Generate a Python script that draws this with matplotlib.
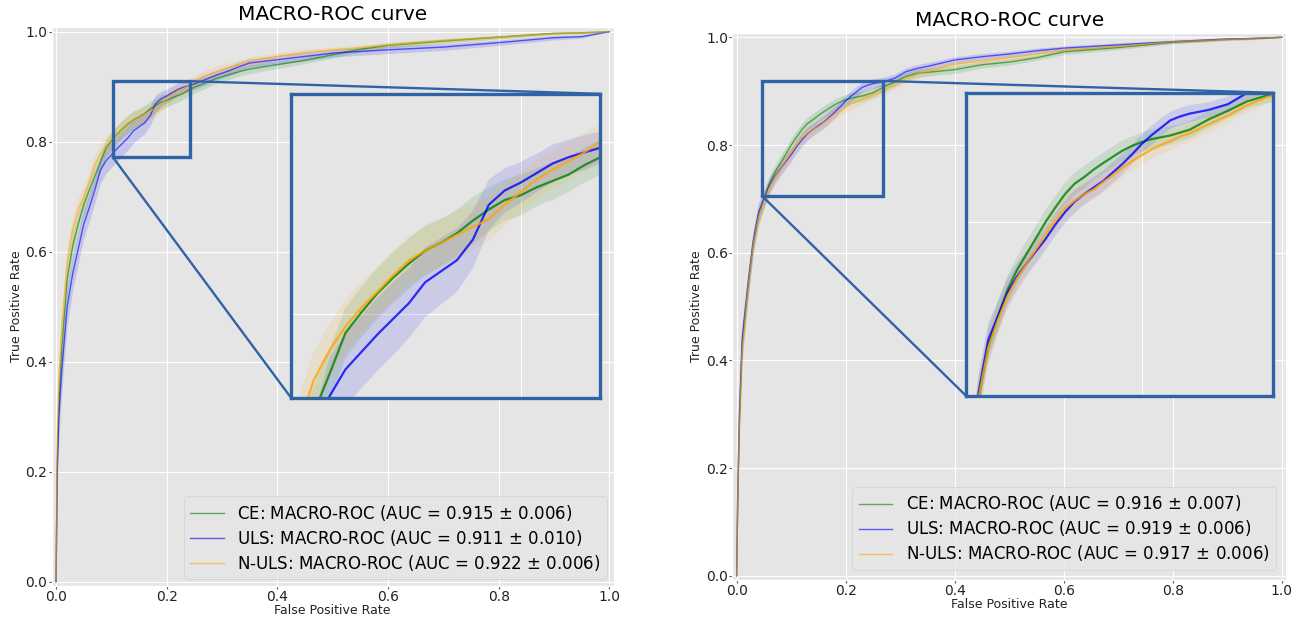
import numpy as np
import matplotlib
matplotlib.use('Agg')
import matplotlib.pyplot as plt
from matplotlib.patches import Rectangle, ConnectionPatch

# Shared false positive rate grid
mean_fpr = [0, 0.002, 0.005, 0.01, 0.02, 0.03, 0.04, 0.05, 0.06, 0.07, 0.08, 0.09,
            0.10, 0.11, 0.12, 0.13, 0.14, 0.15, 0.16, 0.17, 0.18, 0.19, 0.20, 0.21,
            0.22, 0.23, 0.24, 0.25, 0.27, 0.29, 0.31, 0.33, 0.35, 0.40, 0.45, 0.50,
            0.55, 0.60, 0.70, 0.80, 0.90, 0.95, 1.0]

# Left experiment: mean TPR and std per loss
ce_tpr_1 = [0, 0.22, 0.33, 0.42, 0.55, 0.61, 0.65, 0.685, 0.712, 0.737, 0.762, 0.788,
            0.801, 0.813, 0.823, 0.832, 0.840, 0.845, 0.851, 0.859, 0.866, 0.872, 0.875, 0.880,
            0.884, 0.888, 0.894, 0.899, 0.907, 0.915, 0.921, 0.927, 0.932, 0.940, 0.948, 0.958,
            0.968, 0.975, 0.983, 0.990, 0.997, 0.998, 1.0]
uls_tpr_1 = [0, 0.20, 0.30, 0.38, 0.50, 0.56, 0.605, 0.65, 0.68, 0.712, 0.748, 0.765,
             0.776, 0.787, 0.797, 0.807, 0.820, 0.827, 0.834, 0.847, 0.869, 0.878, 0.883, 0.889,
             0.895, 0.899, 0.902, 0.905, 0.913, 0.921, 0.928, 0.936, 0.943, 0.949, 0.955, 0.961,
             0.964, 0.967, 0.972, 0.980, 0.989, 0.991, 1.0]
nuls_tpr_1 = [0, 0.26, 0.37, 0.46, 0.58, 0.64, 0.675, 0.70, 0.727, 0.758, 0.777, 0.792,
              0.804, 0.814, 0.8245, 0.834, 0.840, 0.845, 0.850, 0.855, 0.860, 0.869, 0.877, 0.885,
              0.891, 0.8965, 0.902, 0.909, 0.919, 0.927, 0.934, 0.940, 0.946, 0.955, 0.962, 0.967,
              0.971, 0.976, 0.984, 0.990, 0.996, 0.998, 1.0]
ce_std_1 = [0, 0.03, 0.035, 0.035, 0.03, 0.025, 0.022, 0.02, 0.018, 0.017, 0.016, 0.016,
            0.016, 0.016, 0.016, 0.016, 0.016, 0.015, 0.015, 0.015, 0.014, 0.013, 0.013, 0.012,
            0.012, 0.011, 0.011, 0.011, 0.010, 0.009, 0.009, 0.008, 0.008, 0.007, 0.006, 0.006,
            0.005, 0.005, 0.004, 0.003, 0.002, 0.002, 0]
uls_std_1 = [0, 0.035, 0.04, 0.04, 0.035, 0.03, 0.028, 0.026, 0.025, 0.024, 0.024, 0.023,
             0.023, 0.023, 0.023, 0.022, 0.022, 0.021, 0.020, 0.018, 0.016, 0.014, 0.013, 0.012,
             0.012, 0.011, 0.011, 0.010, 0.010, 0.009, 0.009, 0.009, 0.008, 0.008, 0.008, 0.007,
             0.007, 0.007, 0.006, 0.005, 0.004, 0.003, 0]
nuls_std_1 = [0, 0.03, 0.035, 0.035, 0.03, 0.025, 0.022, 0.02, 0.019, 0.018, 0.017, 0.017,
              0.016, 0.016, 0.016, 0.015, 0.015, 0.015, 0.015, 0.014, 0.014, 0.013, 0.013, 0.013,
              0.012, 0.012, 0.012, 0.012, 0.011, 0.010, 0.009, 0.008, 0.008, 0.007, 0.006, 0.005,
              0.005, 0.004, 0.004, 0.003, 0.002, 0.002, 0]
labels_1 = ['CE: MACRO-ROC (AUC = 0.915 $\\pm$ 0.006)',
            'ULS: MACRO-ROC (AUC = 0.911 $\\pm$ 0.010)',
            'N-ULS: MACRO-ROC (AUC = 0.922 $\\pm$ 0.006)']

# Right experiment
ce_tpr_2 = [0, 0.15, 0.29, 0.43, 0.53, 0.615, 0.668, 0.700, 0.728, 0.749, 0.766, 0.783,
            0.800, 0.815, 0.829, 0.840, 0.847, 0.855, 0.862, 0.8685, 0.875, 0.880, 0.884, 0.887,
            0.889, 0.891, 0.894, 0.897, 0.908, 0.917, 0.927, 0.933, 0.935, 0.940, 0.949, 0.954,
            0.962, 0.973, 0.981, 0.991, 0.996, 0.998, 1.0]
uls_tpr_2 = [0, 0.16, 0.30, 0.44, 0.535, 0.62, 0.675, 0.70, 0.725, 0.742, 0.756, 0.769,
             0.782, 0.797, 0.810, 0.821, 0.829, 0.836, 0.843, 0.852, 0.861, 0.871, 0.882, 0.891,
             0.899, 0.907, 0.911, 0.914, 0.918, 0.924, 0.936, 0.942, 0.946, 0.958, 0.964, 0.969,
             0.975, 0.980, 0.986, 0.992, 0.997, 0.998, 1.0]
nuls_tpr_2 = [0, 0.15, 0.28, 0.42, 0.53, 0.615, 0.667, 0.696, 0.721, 0.740, 0.756, 0.771,
              0.787, 0.801, 0.814, 0.822, 0.829, 0.834, 0.842, 0.849, 0.857, 0.864, 0.870, 0.876,
              0.881, 0.885, 0.890, 0.893, 0.903, 0.912, 0.923, 0.931, 0.937, 0.950, 0.956, 0.962,
              0.969, 0.976, 0.983, 0.992, 0.996, 0.998, 1.0]
ce_std_2 = [0, 0.03, 0.03, 0.03, 0.025, 0.02, 0.018, 0.016, 0.015, 0.014, 0.014, 0.013,
            0.013, 0.012, 0.012, 0.012, 0.012, 0.011, 0.011, 0.011, 0.011, 0.010, 0.010, 0.010,
            0.010, 0.010, 0.009, 0.009, 0.009, 0.008, 0.008, 0.008, 0.007, 0.007, 0.006, 0.006,
            0.005, 0.005, 0.004, 0.003, 0.002, 0.002, 0]
uls_std_2 = [0, 0.03, 0.03, 0.03, 0.025, 0.02, 0.018, 0.016, 0.015, 0.014, 0.013, 0.013,
             0.012, 0.012, 0.012, 0.012, 0.011, 0.011, 0.011, 0.011, 0.011, 0.010, 0.010, 0.010,
             0.010, 0.009, 0.009, 0.009, 0.008, 0.008, 0.007, 0.007, 0.007, 0.006, 0.006, 0.005,
             0.005, 0.004, 0.004, 0.003, 0.002, 0.002, 0]
nuls_std_2 = [0, 0.03, 0.03, 0.03, 0.025, 0.02, 0.018, 0.016, 0.015, 0.014, 0.013, 0.013,
              0.012, 0.012, 0.012, 0.012, 0.011, 0.011, 0.011, 0.011, 0.010, 0.010, 0.010, 0.010,
              0.010, 0.010, 0.009, 0.009, 0.009, 0.008, 0.008, 0.007, 0.007, 0.006, 0.006, 0.005,
              0.005, 0.004, 0.004, 0.003, 0.002, 0.002, 0]
labels_2 = ['CE: MACRO-ROC (AUC = 0.916 $\\pm$ 0.007)',
            'ULS: MACRO-ROC (AUC = 0.919 $\\pm$ 0.006)',
            'N-ULS: MACRO-ROC (AUC = 0.917 $\\pm$ 0.006)']

colors = ['g', 'b', 'orange']
FRAME = '#2f63a6'


def draw_curves(ax, tprs, stds, labels, lw, alpha, band_alpha):
    fpr = np.array(mean_fpr)
    for tpr, std, color, label in zip(tprs, stds, colors, labels):
        tpr = np.array(tpr)
        std = np.array(std)
        ax.plot(fpr, tpr, color=color, lw=lw, alpha=alpha, label=label)
        upper = np.minimum(tpr + std, 1)
        lower = np.maximum(tpr - std, 0)
        ax.fill_between(fpr, lower, upper, color=color, alpha=band_alpha, lw=0)


def style_main(ax):
    ax.set_xticks(np.arange(0, 1.01, 0.2))
    ax.set_yticks(np.arange(0, 1.01, 0.2))
    ax.set_xlim([-0.008, 1.008])
    ax.set_ylim([-0.008, 1.008])
    ax.tick_params(labelsize=10, labelcolor='#222222', length=2, pad=1)
    ax.set_xlabel('False Positive Rate', fontsize=9, color='#222222', labelpad=0)
    ax.set_ylabel('True Positive Rate', fontsize=9, color='#222222', labelpad=2)
    ax.set_title('MACRO-ROC curve', fontsize=14.5, color='black', pad=5)


def add_zoom(fig, ax, tprs, stds, bounds, xlim, ylim, box):
    axins = ax.inset_axes(bounds, transform=ax.transData)
    draw_curves(axins, tprs, stds, [None] * 3, lw=1.6, alpha=0.8, band_alpha=0.11)
    # ticks first, otherwise set_xticks widens the view again
    axins.set_xticks(np.arange(0, 1.01, 0.2))
    axins.set_yticks(np.arange(0, 1.01, 0.2))
    axins.set_xlim(xlim)
    axins.set_ylim(ylim)
    axins.tick_params(length=0, labelleft=False, labelbottom=False)
    for spine in axins.spines.values():
        spine.set_visible(True)
        spine.set_edgecolor(FRAME)
        spine.set_linewidth(2.4)

    # Zoom region on the main curve
    x0, x1, y0, y1 = box
    ax.add_patch(Rectangle((x0, y0), x1 - x0, y1 - y0, fill=False, ec=FRAME, lw=2.4, zorder=5))

    # Connectors: upper right and lower left corners
    con1 = ConnectionPatch(xyA=(1, 1), coordsA=axins.transAxes, xyB=(x1, y1), coordsB=ax.transData,
                           color=FRAME, lw=1.7, zorder=6)
    con2 = ConnectionPatch(xyA=(0, 0), coordsA=axins.transAxes, xyB=(x0, y0), coordsB=ax.transData,
                           color=FRAME, lw=1.7, zorder=6)
    fig.add_artist(con1)
    fig.add_artist(con2)
    return axins


plt.style.use('ggplot')
fig = plt.figure(figsize=(12.98, 6.17), dpi=100)

ax1 = fig.add_axes([0.0398, 0.0501, 0.4330, 0.9057])
tprs_1 = [ce_tpr_1, uls_tpr_1, nuls_tpr_1]
stds_1 = [ce_std_1, uls_std_1, nuls_std_1]
draw_curves(ax1, tprs_1, stds_1, labels_1, lw=1, alpha=0.6, band_alpha=0.14)
style_main(ax1)
ax1.legend(loc='lower right', fontsize=12, labelspacing=0.3, borderaxespad=0.4)
add_zoom(fig, ax1, tprs_1, stds_1, [0.425, 0.334, 0.559, 0.553],
         [0.056, 0.25], [0.747, 0.939], [0.1025, 0.242, 0.772, 0.910])

ax2 = fig.add_axes([0.5642, 0.0598, 0.4267, 0.8867])
tprs_2 = [ce_tpr_2, uls_tpr_2, nuls_tpr_2]
stds_2 = [ce_std_2, uls_std_2, nuls_std_2]
draw_curves(ax2, tprs_2, stds_2, labels_2, lw=1, alpha=0.6, band_alpha=0.14)
style_main(ax2)
ax2.legend(loc='lower right', fontsize=12, labelspacing=0.3, borderaxespad=0.6)
add_zoom(fig, ax2, tprs_2, stds_2, [0.421, 0.334, 0.563, 0.563],
         [0.017, 0.337], [0.616, 0.936], [0.046, 0.269, 0.706, 0.919])

plt.savefig('out.png', dpi=100)
